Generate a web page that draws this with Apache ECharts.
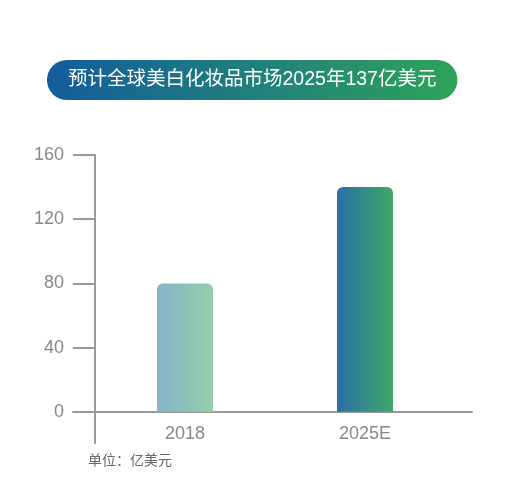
<!DOCTYPE html>
<html>
<head>
<meta charset="utf-8">
<script src="https://cdn.jsdelivr.net/npm/echarts@6/dist/echarts.min.js"></script>
<style>
  html, body { margin: 0; padding: 0; background: #fff; }
  #chart { width: 513px; height: 486px; }
</style>
</head>
<body>
<div id="chart"></div>
<script>
const titleText = "预计全球美白化妆品市场2025年137亿美元";
const unitText = "单位：亿美元";
const categories = ["2018", "2025E"];
const values = [80, 140];
const yTicks = [0, 40, 80, 120, 160];

const font = "'Liberation Sans', 'Noto Sans CJK SC', sans-serif";
const grey = "#999999";

const barColors = [
  ["#86b2ca", "#94cfa9"],
  ["#2a6ea6", "#3fa866"]
];

const barData = values.map((v, i) => ({
  value: v,
  itemStyle: {
    color: new echarts.graphic.LinearGradient(0, 0, 1, 0, [
      { offset: 0, color: barColors[i][0] },
      { offset: 1, color: barColors[i][1] }
    ])
  }
}));

const chart = echarts.init(document.getElementById("chart"));
const option = {
  animation: false,
  title: {
    text: titleText,
    left: 47,
    top: 60,
    padding: [9, 21, 9, 21],
    borderRadius: 20,
    backgroundColor: new echarts.graphic.LinearGradient(0, 0, 1, 0, [
      { offset: 0, color: "#135c9c" },
      { offset: 1, color: "#2ea35a" }
    ]),
    textStyle: {
      color: "#ffffff",
      fontSize: 19.5,
      fontWeight: "normal",
      fontFamily: font,
      lineHeight: 22
    }
  },
  grid: [
    { left: 95, right: 58, top: 155, bottom: 43 },
    // only used to draw the long baseline through 0
    { left: 73, right: 41, top: 155, bottom: 74 }
  ],
  xAxis: [
    {
      type: "category",
      data: categories,
      gridIndex: 0,
      axisLine: { show: false },
      axisTick: { show: false },
      axisLabel: {
        color: "#888888",
        fontSize: 18,
        fontFamily: font,
        margin: -18
      }
    },
    {
      type: "value",
      gridIndex: 1,
      axisLine: { show: true, lineStyle: { color: grey, width: 2 } },
      axisTick: { show: false },
      axisLabel: { show: false },
      splitLine: { show: false }
    }
  ],
  yAxis: [
    {
      type: "value",
      gridIndex: 0,
      min: -19.4,
      max: 160,
      axisLine: { show: true, lineStyle: { color: grey, width: 2 } },
      axisTick: {
        show: true,
        length: 22,
        customValues: yTicks,
        lineStyle: { color: grey, width: 2 }
      },
      axisLabel: {
        customValues: yTicks,
        color: "#888888",
        fontSize: 18,
        fontFamily: font,
        margin: 31
      },
      splitLine: { show: false }
    },
    {
      type: "value",
      gridIndex: 1,
      show: false
    }
  ],
  graphic: [
    {
      type: "text",
      left: 88,
      top: 454,
      style: {
        text: unitText,
        fill: "#666666",
        fontSize: 14,
        fontFamily: font
      }
    }
  ],
  series: [
    {
      type: "bar",
      xAxisIndex: 0,
      yAxisIndex: 0,
      data: barData,
      barWidth: 56,
      itemStyle: { borderRadius: [6, 6, 0, 0] }
    }
  ]
};
chart.setOption(option);
</script>
</body>
</html>
